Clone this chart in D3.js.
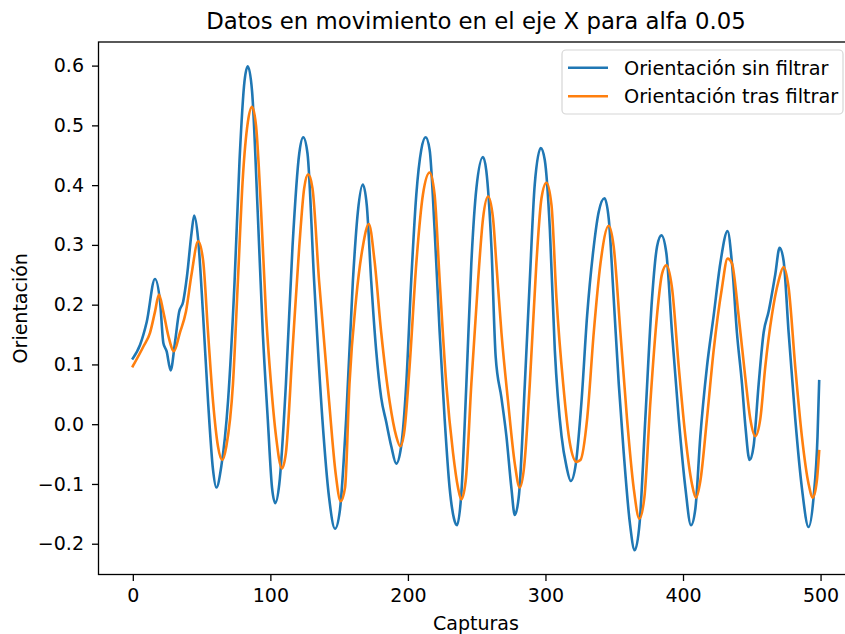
<!DOCTYPE html>
<html>
<head>
<meta charset="utf-8">
<script src="https://cdn.jsdelivr.net/npm/d3@7"></script>
<style>
  body { margin: 0; background: #ffffff; }
  svg { display: block; font-family: "DejaVu Sans", sans-serif; }
</style>
</head>
<body>
<svg id="chart" width="845" height="634"></svg>
<script>
// Raw orientation signal (captures, value)
const rawCaptures = [0, 5.3, 10.1, 16.1, 19.8, 22.2, 24.6, 27.5, 30.6, 33.7, 36.6, 39.5, 42.7, 44.6, 47.5, 51.1, 54.7, 58.3, 60.7, 64.3, 69.2, 74, 77.6, 81.2, 83.6, 86.7, 90.8, 94.5, 98.1, 101.2, 103.6, 106.5, 111.3, 116.1, 121, 123.9, 127, 131.8, 137.8, 142.7, 147, 150.5, 155.1, 160, 163.6, 167.2, 170.1, 173.3, 176.9, 180.6, 184.2, 187.9, 191.5, 195.1, 198.8, 202.4, 206.1, 209.7, 212.9, 215.8, 219.4, 223.1, 226.7, 230.3, 233.5, 235.7, 238.8, 242.5, 246.1, 249.8, 254.6, 257, 260.7, 263.8, 268, 271.6, 275.2, 277.7, 280.8, 285, 288.6, 292.2, 296.6, 299.5, 303.2, 306.8, 311.7, 315.3, 318.4, 322.1, 326.2, 330.3, 335.1, 338.7, 342.9, 346, 349.6, 353.3, 356.9, 361.3, 364.9, 368.5, 372.6, 377.5, 381.1, 384.3, 387.9, 392, 396.9, 401.7, 405.8, 409, 412.6, 417.4, 422.3, 427.1, 432.4, 435.6, 439.2, 442.9, 445.3, 448.4, 451.3, 455, 458.6, 462.2, 467.1, 470.2, 473.1, 476.8, 481.6, 486.4, 491.3, 494.9, 497.8, 499];
const rawValues = [0.110, 0.133, 0.171, 0.243, 0.205, 0.136, 0.122, 0.090, 0.136, 0.188, 0.205, 0.250, 0.320, 0.349, 0.309, 0.182, 0.038, -0.076, -0.106, -0.071, 0.038, 0.240, 0.442, 0.574, 0.599, 0.557, 0.355, 0.153, 0.009, -0.106, -0.132, -0.100, 0.067, 0.297, 0.453, 0.480, 0.453, 0.240, 0.009, -0.123, -0.175, -0.145, 0.009, 0.240, 0.355, 0.401, 0.366, 0.240, 0.124, 0.044, 0.004, -0.037, -0.066, -0.037, 0.067, 0.240, 0.384, 0.459, 0.480, 0.459, 0.326, 0.153, 0.009, -0.106, -0.158, -0.169, -0.117, 0.067, 0.269, 0.395, 0.447, 0.424, 0.297, 0.113, 0.044, -0.020, -0.106, -0.152, -0.117, 0.067, 0.240, 0.401, 0.462, 0.442, 0.326, 0.124, -0.020, -0.071, -0.095, -0.066, 0.038, 0.182, 0.297, 0.355, 0.378, 0.344, 0.211, 0.067, -0.048, -0.164, -0.211, -0.164, 0.009, 0.211, 0.297, 0.316, 0.286, 0.153, 0.009, -0.106, -0.169, -0.141, -0.020, 0.096, 0.182, 0.269, 0.323, 0.269, 0.153, 0.067, -0.002, -0.060, -0.037, 0.067, 0.153, 0.188, 0.251, 0.295, 0.274, 0.153, 0.009, -0.106, -0.172, -0.123, -0.020, 0.072];

// Filtered orientation signal (captures, value)
const filteredCaptures = [0, 7.7, 12.5, 16.1, 19, 22.2, 25.8, 29.9, 34.2, 38.6, 42.7, 47.5, 51.1, 54.7, 58.3, 61.9, 65.1, 68, 72.8, 76.4, 80, 83.6, 86.7, 89.6, 93.3, 96.9, 100.5, 104.1, 108.4, 111.3, 116.1, 121, 124.6, 127.5, 130.6, 135.4, 142.7, 147.5, 151.1, 154.3, 157.5, 162.4, 167.2, 171.6, 175.7, 180.6, 186.7, 191.5, 194.4, 197.6, 201.2, 206.1, 210.9, 215.8, 219.4, 223.1, 227.9, 232.8, 236.4, 238.8, 242, 246.1, 251, 254.6, 258.3, 261.9, 264.3, 268, 272.8, 277.7, 281.3, 284.5, 288.6, 293.4, 297.1, 300.7, 304.4, 308, 312.9, 317.7, 322.6, 325.4, 330.3, 335.1, 340, 346, 349.6, 354.5, 359.3, 364.1, 368.3, 371.9, 376.3, 381.1, 384.7, 387.9, 392, 396.9, 401.7, 406.5, 409.4, 412.6, 417.4, 422.3, 428.3, 432.4, 435.6, 440.4, 445.3, 448.9, 452.5, 456.2, 459.8, 464.6, 469.5, 473.1, 476.8, 481.6, 486.4, 491.3, 494.4, 497.3, 499];
const filteredValues = [0.097, 0.130, 0.153, 0.188, 0.217, 0.188, 0.148, 0.122, 0.153, 0.188, 0.251, 0.306, 0.274, 0.153, 0.038, -0.037, -0.060, -0.037, 0.067, 0.240, 0.413, 0.505, 0.531, 0.499, 0.355, 0.182, 0.067, -0.020, -0.074, -0.048, 0.124, 0.297, 0.395, 0.418, 0.395, 0.240, 0.038, -0.083, -0.129, -0.106, 0.067, 0.211, 0.297, 0.335, 0.274, 0.153, 0.038, -0.020, -0.037, -0.008, 0.096, 0.269, 0.384, 0.421, 0.384, 0.240, 0.067, -0.048, -0.106, -0.126, -0.095, 0.067, 0.240, 0.344, 0.381, 0.344, 0.269, 0.153, 0.038, -0.066, -0.106, -0.071, 0.067, 0.269, 0.378, 0.404, 0.366, 0.211, 0.067, -0.031, -0.063, -0.060, 0.009, 0.153, 0.269, 0.332, 0.297, 0.153, 0.009, -0.106, -0.158, -0.123, 0.038, 0.182, 0.251, 0.266, 0.228, 0.096, -0.020, -0.100, -0.123, -0.095, 0.009, 0.124, 0.228, 0.277, 0.269, 0.182, 0.078, 0.009, -0.020, 0.009, 0.096, 0.182, 0.240, 0.263, 0.228, 0.096, -0.020, -0.100, -0.123, -0.095, -0.045];

const seriesNames = ["Orientación sin filtrar", "Orientación tras filtrar"];
const seriesColors = ["#1f77b4", "#ff7f0e"];
const xTicks = [0, 100, 200, 300, 400, 500];
const yTicks = [-0.2, -0.1, 0.0, 0.1, 0.2, 0.3, 0.4, 0.5, 0.6];

const titleText = "Datos en movimiento en el eje X para alfa 0.05";
const xLabelText = "Capturas";
const yLabelText = "Orientación";

// Plot frame (the right edge extends past the canvas)
const plot = { left: 98.5, right: 853.5, top: 42, bottom: 574.5 };

const series = [
  rawCaptures.map((c, i) => ({ x: c, y: rawValues[i] })),
  filteredCaptures.map((c, i) => ({ x: c, y: filteredValues[i] }))
];

// Autoscale with 5% margins on each side
function padded(lo, hi) { const m = (hi - lo) * 0.05; return [lo - m, hi + m]; }
const xExt = d3.extent(rawCaptures.concat(filteredCaptures));
const yExt = d3.extent(rawValues.concat(filteredValues));

const x = d3.scaleLinear().domain(padded(xExt[0], xExt[1])).range([plot.left, plot.right]);
const y = d3.scaleLinear().domain(padded(yExt[0], yExt[1])).range([plot.bottom, plot.top]);

const svg = d3.select("#chart");
const fontSize = 19;

svg.append("defs").append("clipPath").attr("id", "plot-clip")
  .append("rect")
  .attr("x", plot.left).attr("y", plot.top)
  .attr("width", plot.right - plot.left).attr("height", plot.bottom - plot.top);

// Lines
const line = d3.line().x(d => x(d.x)).y(d => y(d.y)).curve(d3.curveMonotoneX);
svg.append("g").attr("clip-path", "url(#plot-clip)")
  .selectAll("path").data(series).join("path")
  .attr("d", line)
  .attr("fill", "none")
  .attr("stroke", (d, i) => seriesColors[i])
  .attr("stroke-width", 2.6)
  .attr("stroke-linejoin", "round")
  .attr("stroke-linecap", "square");

// Axes
const tickLen = 6.5;
const xAxis = d3.axisBottom(x).tickValues(xTicks).tickFormat(d3.format("d"))
  .tickSize(tickLen).tickSizeOuter(0).tickPadding(7.5);
const yAxis = d3.axisLeft(y).tickValues(yTicks).tickFormat(d3.format(".1f"))
  .tickSize(tickLen).tickSizeOuter(0).tickPadding(8);

const gx = svg.append("g").attr("transform", `translate(0,${plot.bottom})`).call(xAxis);
const gy = svg.append("g").attr("transform", `translate(${plot.left},0)`).call(yAxis);
[gx, gy].forEach(g => {
  g.select(".domain").remove();
  g.selectAll(".tick line").attr("stroke", "#000").attr("stroke-width", 1.3);
  g.selectAll(".tick text").attr("fill", "#000")
    .style("font-size", fontSize + "px").style("font-family", "DejaVu Sans, sans-serif");
});

// Frame
svg.append("rect")
  .attr("x", plot.left).attr("y", plot.top)
  .attr("width", plot.right - plot.left).attr("height", plot.bottom - plot.top)
  .attr("fill", "none").attr("stroke", "#000").attr("stroke-width", 1.3);

// Title and axis labels
const centerX = (plot.left + plot.right) / 2;
svg.append("text").attr("x", centerX).attr("y", 29)
  .attr("text-anchor", "middle").style("font-size", "22.8px").attr("fill", "#000")
  .text(titleText);
svg.append("text").attr("x", centerX).attr("y", 630)
  .attr("text-anchor", "middle").style("font-size", fontSize + "px").attr("fill", "#000")
  .text(xLabelText);
svg.append("text")
  .attr("transform", `translate(27,${(plot.top + plot.bottom) / 2}) rotate(-90)`)
  .attr("text-anchor", "middle").style("font-size", fontSize + "px").attr("fill", "#000")
  .text(yLabelText);

// Legend
const legend = { left: 562, top: 50, right: 843, bottom: 114 };
svg.append("rect")
  .attr("x", legend.left).attr("y", legend.top)
  .attr("width", legend.right - legend.left).attr("height", legend.bottom - legend.top)
  .attr("rx", 4).attr("ry", 4)
  .attr("fill", "#ffffff").attr("fill-opacity", 0.8)
  .attr("stroke", "#d6d6d6").attr("stroke-width", 1.2);
const rows = svg.append("g").selectAll("g").data(seriesNames).join("g")
  .attr("transform", (d, i) => `translate(0,${67.7 + i * 28.5})`);
rows.append("line")
  .attr("x1", 568).attr("x2", 608).attr("y1", 0).attr("y2", 0)
  .attr("stroke", (d, i) => seriesColors[i]).attr("stroke-width", 2.6);
rows.append("text")
  .attr("x", 624).attr("y", 0).attr("dy", "0.36em")
  .style("font-size", "19.3px").attr("fill", "#000")
  .text(d => d);
</script>
</body>
</html>
